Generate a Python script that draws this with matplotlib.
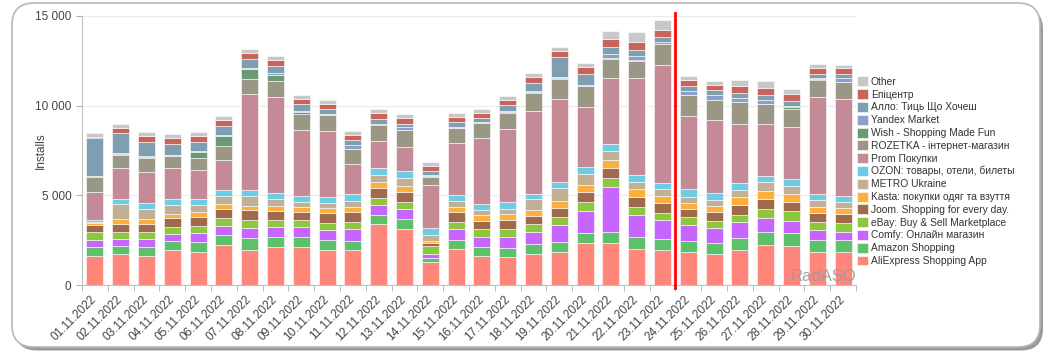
import numpy as np
import matplotlib
matplotlib.use("Agg")
import matplotlib.pyplot as plt
from matplotlib.patches import FancyBboxPatch

plt.rcParams['font.family'] = ['Liberation Sans', 'DejaVu Sans']

# dni listopada 2022
dni = ['%02d.11.2022' % d for d in range(1, 31)]

aliexpress = [1617, 1710, 1636, 1933, 1859, 2212, 1952, 2101, 2101, 1933, 1933, 3402, 3142, 1283, 2008,
              1599, 1543, 1710, 1859, 2324, 2324, 2008, 1933, 1822, 1710, 1952, 2212, 2194, 1859, 1859]
amazon = [483, 465, 502, 521, 521, 576, 651, 558, 558, 558, 539, 521, 558, 204, 521,
          521, 521, 558, 558, 558, 632, 651, 613, 651, 651, 669, 725, 706, 632, 632]
comfy = [409, 409, 428, 409, 502, 521, 558, 558, 558, 558, 651, 521, 521, 260, 595,
         576, 632, 688, 911, 1264, 2510, 1246, 1060, 892, 799, 874, 799, 688, 558, 465]
ebay = [428, 390, 409, 390, 409, 409, 446, 409, 390, 428, 409, 409, 428, 428, 409,
        428, 428, 446, 483, 465, 502, 465, 428, 409, 428, 428, 483, 521, 483, 502]
joom = [428, 428, 446, 465, 521, 521, 558, 521, 483, 539, 539, 558, 558, 186, 539,
        465, 483, 446, 502, 558, 539, 521, 521, 483, 465, 539, 558, 539, 502, 502]
kasta = [93, 279, 260, 260, 260, 260, 260, 279, 260, 260, 297, 335, 316, 112, 297,
         297, 335, 335, 390, 409, 465, 465, 409, 335, 353, 428, 446, 409, 335, 335]
metro = [56, 818, 576, 465, 409, 465, 539, 372, 279, 279, 316, 390, 428, 316, 316,
         297, 316, 595, 706, 632, 502, 409, 372, 335, 353, 409, 502, 483, 372, 353]
ozon = [112, 316, 335, 353, 335, 353, 353, 353, 335, 353, 390, 390, 428, 372, 353,
        335, 353, 316, 353, 372, 390, 353, 372, 428, 390, 372, 372, 390, 353, 335]
prom = [1543, 1710, 1710, 1729, 1580, 1636, 5354, 5335, 3662, 3662, 1655, 1506, 1338, 2435, 2881,
        3662, 4090, 4592, 4629, 3346, 3662, 5410, 6562, 4071, 4034, 3328, 2863, 2863, 5410, 5410]
rozetka = [855, 725, 781, 651, 688, 799, 799, 892, 892, 892, 837, 874, 911, 446, 818,
           837, 892, 1041, 1115, 1153, 1097, 985, 1153, 1153, 1115, 1190, 1115, 1041, 930, 911]
wish = [37, 37, 37, 37, 335, 558, 576, 335, 149, 37, 37, 56, 37, 37, 37,
        37, 37, 37, 37, 37, 37, 37, 37, 37, 37, 37, 37, 74, 37, 37]
yandex = [37, 74, 56, 56, 56, 56, 56, 93, 56, 56, 204, 37, 149, 56, 37,
          56, 74, 56, 56, 56, 223, 223, 74, 204, 260, 204, 223, 93, 56, 186]
allo = [2082, 1097, 799, 595, 502, 502, 483, 390, 353, 279, 260, 242, 149, 223, 260,
        204, 316, 465, 1097, 613, 409, 353, 297, 260, 260, 297, 260, 242, 223, 223]
epicentr = [93, 316, 316, 316, 316, 335, 372, 335, 316, 279, 297, 335, 335, 297, 297,
            297, 297, 316, 353, 372, 428, 428, 390, 335, 279, 372, 390, 428, 353, 335]
other = [186, 223, 223, 223, 223, 223, 204, 223, 223, 204, 204, 223, 223, 204, 204,
         204, 223, 242, 242, 242, 446, 558, 558, 223, 260, 353, 390, 242, 204, 204]

serie = [
    ('AliExpress Shopping App', aliexpress, '#ff867a'),
    ('Amazon Shopping', amazon, '#5cc16a'),
    ('Comfy: Онлайн магазин', comfy, '#c766ff'),
    ('eBay: Buy & Sell Marketplace', ebay, '#8dc63f'),
    ('Joom. Shopping for every day.', joom, '#9e6a4b'),
    ('Kasta: покупки одяг та взуття', kasta, '#fcae3f'),
    ('METRO Ukraine', metro, '#c2b096'),
    ('OZON: товары, отели, билеты', ozon, '#6ccce4'),
    ('Prom Покупки', prom, '#c48a98'),
    ('ROZETKA - інтернет-магазин', rozetka, '#9a9784'),
    ('Wish - Shopping Made Fun', wish, '#6a9a72'),
    ('Yandex Market', yandex, '#8c9fcb'),
    ('Алло: Тиць Що Хочеш', allo, '#7f9eb2'),
    ('Епіцентр', epicentr, '#c8645a'),
    ('Other', other, '#c8c8c8'),
]

fig = plt.figure(figsize=(10.49, 3.56), dpi=100)

# ramka z cieniem (pod osiami)
cien = FancyBboxPatch((0.15, 0.055), 10.28, 3.43, boxstyle='round,pad=0,rounding_size=0.22',
                      transform=fig.dpi_scale_trans, facecolor='#9a9a9a', edgecolor='none', zorder=-2)
ramka = FancyBboxPatch((0.12, 0.09), 10.28, 3.44, boxstyle='round,pad=0,rounding_size=0.22',
                       transform=fig.dpi_scale_trans, facecolor='white', edgecolor='#b8b8b8',
                       linewidth=1.2, zorder=-1)
fig.patches.append(cien)
fig.patches.append(ramka)

ax = fig.add_axes([82 / 1049, 71 / 356, 774 / 1049, 269 / 356])
ax.set_facecolor('none')

x = np.arange(len(dni))
dol = np.zeros(len(dni))
for nazwa, wartosci, kolor in serie:
    ax.bar(x, wartosci, 0.66, bottom=dol, color=kolor, edgecolor='white', linewidth=0.4, label=nazwa, zorder=3)
    dol += np.array(wartosci)

ax.axvline(22.5, ymin=-0.01, ymax=1.01, color='red', linewidth=2, zorder=5, clip_on=False)

ax.set_xlim(-0.5, 29.5)
ax.set_ylim(0, 15000)
ax.set_yticks([0, 5000, 10000, 15000])
ax.set_yticklabels(['0', '5 000', '10 000', '15 000'])
ax.set_xticks(x)
ax.set_xticklabels(dni, rotation=45, ha='right', va='center', rotation_mode='anchor')
ax.set_xticks(np.arange(-0.5, 30, 1), minor=True)
ax.tick_params(axis='x', which='major', length=0, pad=9, labelsize=8.5, colors='#444444')
ax.tick_params(axis='x', which='minor', length=4, color='#b0b0b0')
ax.tick_params(axis='y', length=4, color='#b0b0b0', labelsize=8.5, colors='#444444')
ax.grid(axis='y', color='#ececec', linewidth=0.8, zorder=0)
for s in ['top', 'right']:
    ax.spines[s].set_visible(False)
ax.spines['left'].set_color('#c0c0c0')
ax.spines['bottom'].set_color('#c0c0c0')
ax.set_ylabel('Installs', fontsize=8.5, color='#444444')
ax.yaxis.set_label_coords(-0.046, 0.5)

ax.text(1.0, 0.005, 'RadASO', transform=ax.transAxes, ha='right', va='bottom',
        fontsize=12, color='#9a9a9a', alpha=0.9, zorder=6)

h, l = ax.get_legend_handles_labels()
ax.legend(h[::-1], l[::-1], loc='upper left', bbox_to_anchor=(1.0, 0.779), frameon=False,
          fontsize=7.4, handlelength=1.1, handleheight=1.1, handletextpad=0.25,
          labelspacing=0.23, borderaxespad=0.0, borderpad=0.1, labelcolor='#333333')

fig.savefig('out.png', dpi=100)
